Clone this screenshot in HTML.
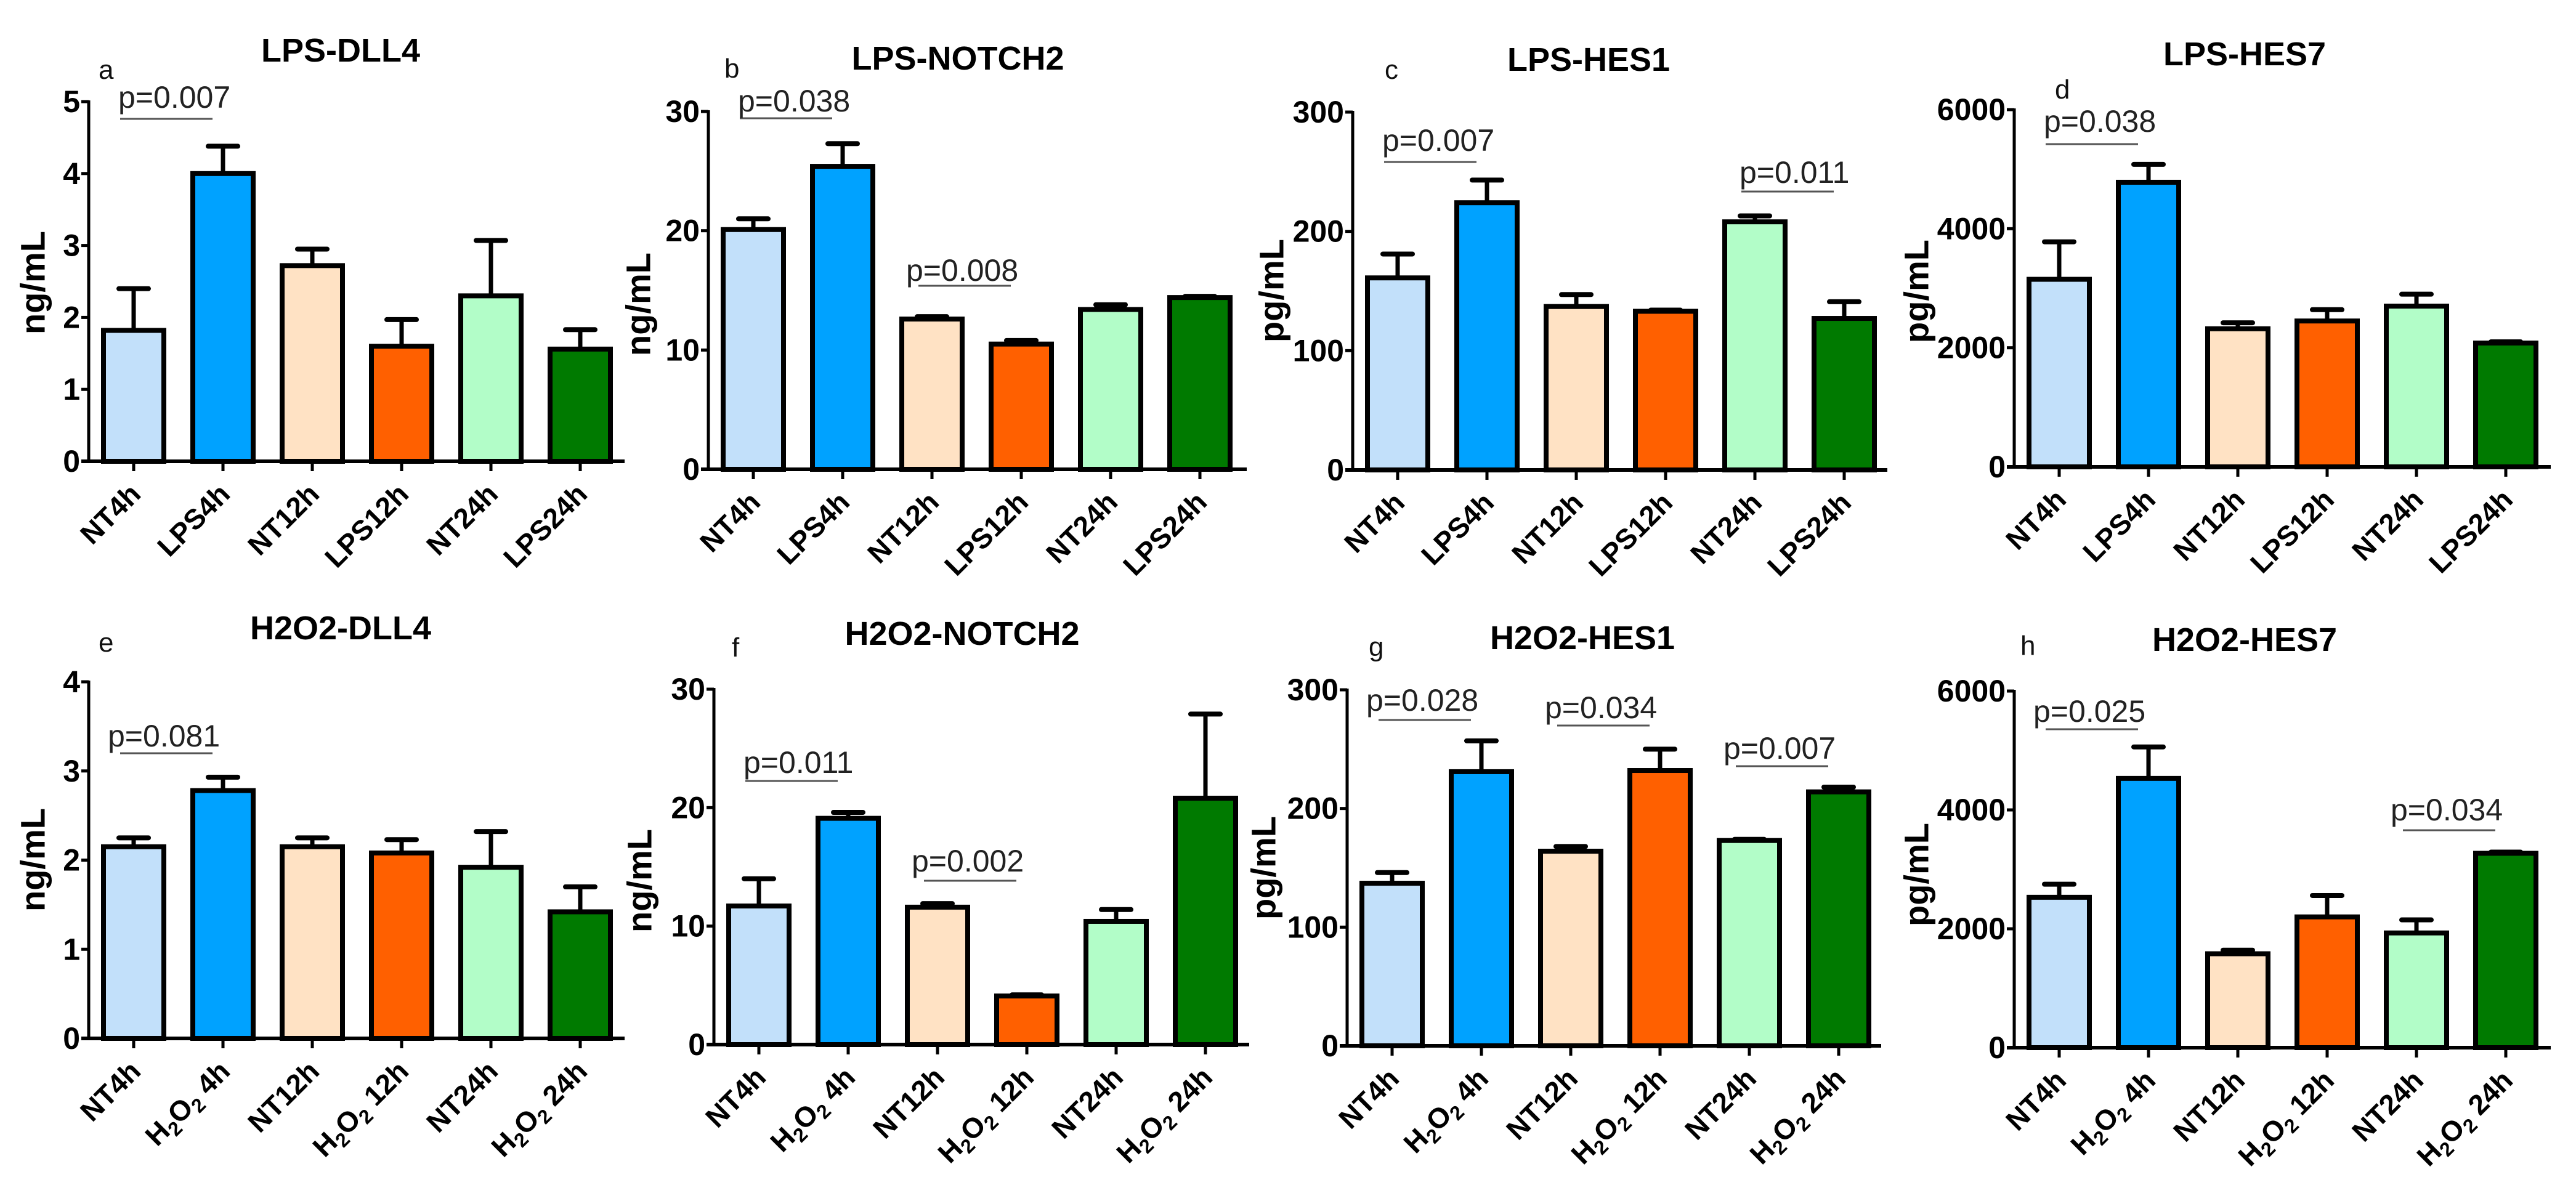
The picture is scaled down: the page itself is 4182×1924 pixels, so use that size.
<!DOCTYPE html>
<html><head><meta charset="utf-8">
<style>
html,body{margin:0;padding:0;background:#fff;}
svg{display:block;}
text{font-family:"Liberation Sans",Arial,sans-serif;}
</style></head>
<body>
<svg id="fig" width="4182" height="1924" viewBox="0 0 4182 1924" xmlns="http://www.w3.org/2000/svg"></svg>
<script>
// ---------- data ----------
const lpsCategories = ["NT4h","LPS4h","NT12h","LPS12h","NT24h","LPS24h"];
const h2o2Categories = ["NT4h","H2O2 4h","NT12h","H2O2 12h","NT24h","H2O2 24h"];
const barColors = ["#c2e0fa","#00a2ff","#ffe2c4","#ff6000","#b2fdc8","#007a00"];

const aValues = [1.82, 4.0, 2.72, 1.6, 2.3, 1.56];
const aErrTop = [2.4, 4.38, 2.95, 1.97, 3.07, 1.83];
const aTicks = [0,1,2,3,4,5];

const bValues = [20.1, 25.4, 12.6, 10.5, 13.4, 14.4];
const bErrTop = [21.0, 27.3, 12.8, 10.8, 13.8, 14.5];
const bTicks = [0,10,20,30];

const cValues = [161, 224, 137, 133, 208, 127];
const cErrTop = [181, 243, 147, 134, 213, 141];
const cTicks = [0,100,200,300];

const dValues = [3150, 4780, 2320, 2450, 2700, 2080];
const dErrTop = [3780, 5080, 2420, 2640, 2900, 2100];
const dTicks = [0,2000,4000,6000];

const eValues = [2.15, 2.78, 2.15, 2.08, 1.92, 1.42];
const eErrTop = [2.25, 2.93, 2.25, 2.23, 2.32, 1.7];
const eTicks = [0,1,2,3,4];

const fValues = [11.7, 19.1, 11.6, 4.1, 10.4, 20.8];
const fErrTop = [14.0, 19.6, 11.9, 4.2, 11.4, 27.9];
const fTicks = [0,10,20,30];

const gValues = [137, 231, 164, 232, 173, 214];
const gErrTop = [146, 257, 168, 250, 174, 218];
const gTicks = [0,100,200,300];

const hValues = [2530, 4530, 1580, 2200, 1930, 3270];
const hErrTop = [2750, 5060, 1640, 2560, 2150, 3290];
const hTicks = [0,2000,4000,6000];

// ---------- layout ----------
const panels = [
 {id:"a",title:"LPS-DLL4",unit:"ng/mL",cats:lpsCategories,vals:aValues,errs:aErrTop,ticks:aTicks,ax:144,top:165,zero:749,xend:1014,tx:553,ty:100,lx:160,ly:128,ulx:53,uly:459,
  pv:[{t:"p=0.007",i:0,j:1,y:193,ty:175}]},
 {id:"b",title:"LPS-NOTCH2",unit:"ng/mL",cats:lpsCategories,vals:bValues,errs:bErrTop,ticks:bTicks,ax:1150,top:181,zero:762,xend:2024,tx:1555,ty:113,lx:1176,ly:126,ulx:1036,uly:494,
  pv:[{t:"p=0.038",i:0,j:1,y:192,ty:181},{t:"p=0.008",i:2,j:3,y:464,ty:456,shift:true}]},
 {id:"c",title:"LPS-HES1",unit:"pg/mL",cats:lpsCategories,vals:cValues,errs:cErrTop,ticks:cTicks,ax:2196,top:182,zero:763,xend:3064,tx:2579,ty:115,lx:2248,ly:128,ulx:2064,uly:472,
  pv:[{t:"p=0.007",i:0,j:1,y:263,ty:245},{t:"p=0.011",i:4,j:5,y:311,ty:297}]},
 {id:"d",title:"LPS-HES7",unit:"pg/mL",cats:lpsCategories,vals:dValues,errs:dErrTop,ticks:dTicks,ax:3270,top:178,zero:758,xend:4141,tx:3644,ty:106,lx:3336,ly:160,ulx:3111,uly:473,
  pv:[{t:"p=0.038",i:0,j:1,y:234,ty:214}]},
 {id:"e",title:"H2O2-DLL4",unit:"ng/mL",cats:h2o2Categories,vals:eValues,errs:eErrTop,ticks:eTicks,ax:144,top:1107,zero:1686,xend:1014,tx:553,ty:1038,lx:160,ly:1058,ulx:53,uly:1396,
  pv:[{t:"p=0.081",i:0,j:1,y:1223,ty:1212,shift:true}]},
 {id:"f",title:"H2O2-NOTCH2",unit:"ng/mL",cats:h2o2Categories,vals:fValues,errs:fErrTop,ticks:fTicks,ax:1159,top:1119,zero:1696,xend:2028,tx:1562,ty:1047,lx:1188,ly:1066,ulx:1038,uly:1430,
  pv:[{t:"p=0.011",i:0,j:1,y:1268,ty:1255},{t:"p=0.002",i:2,j:3,y:1430,ty:1415,shift:true}]},
 {id:"g",title:"H2O2-HES1",unit:"pg/mL",cats:h2o2Categories,vals:gValues,errs:gErrTop,ticks:gTicks,ax:2187,top:1120,zero:1698,xend:3054,tx:2569,ty:1054,lx:2222,ly:1065,ulx:2051,uly:1409,
  pv:[{t:"p=0.028",i:0,j:1,y:1169,ty:1154,shift:true},{t:"p=0.034",i:2,j:3,y:1178,ty:1166,shift:true},{t:"p=0.007",i:4,j:5,y:1244,ty:1232,shift:true}]},
 {id:"h",title:"H2O2-HES7",unit:"pg/mL",cats:h2o2Categories,vals:hValues,errs:hErrTop,ticks:hTicks,ax:3270,top:1122,zero:1701,xend:4141,tx:3644,ty:1057,lx:3280,ly:1063,ulx:3111,uly:1420,
  pv:[{t:"p=0.025",i:0,j:1,y:1184,ty:1172,shift:true},{t:"p=0.034",i:4,j:5,y:1348,ty:1332,shift:true}]}
];

const NS="http://www.w3.org/2000/svg";
const svg=document.getElementById("fig");
function mk(tag,attrs,parent){const el=document.createElementNS(NS,tag);for(const k in attrs)el.setAttribute(k,attrs[k]);(parent||svg).appendChild(el);return el;}

const SPACING=145, OFF=73, BW=98;

panels.forEach(p=>{
  const g=mk("g",{});
  
  
  const maxV=p.ticks[p.ticks.length-1];
  const yScale=v=>p.zero-(v/maxV)*(p.zero-p.top);
  const xScale=i=>p.ax+OFF+i*SPACING;

  const t=mk("text",{x:p.tx,y:p.ty,"font-size":54,"font-weight":"bold","text-anchor":"middle",fill:"#000"},g);
  t.textContent=p.title;
  
  
  const l=mk("text",{x:p.lx,y:p.ly,"font-size":44,fill:"#111"},g);
  l.textContent=p.id;
  
  
  const yt=mk("text",{x:p.ulx,y:p.uly,"font-size":56,"font-weight":"bold","text-anchor":"middle",transform:`rotate(-90 ${p.ulx} ${p.uly})`,"dominant-baseline":"central"},g);
  yt.textContent=p.unit;
  
  

  p.vals.forEach((v,i)=>{
    const cx=xScale(i), yv=yScale(v), ye=yScale(p.errs[i]);
    const st=mk("line",{x1:cx,x2:cx,y1:ye,y2:yv,stroke:"#000","stroke-width":7},g);
    
    
    const cap=mk("line",{x1:cx-24,x2:cx+24,y1:ye,y2:ye,stroke:"#000","stroke-width":8,"stroke-linecap":"round"},g);
    
    
    const r=mk("rect",{x:cx-BW/2,y:yv,width:BW,height:p.zero-yv,fill:barColors[i],stroke:"#000","stroke-width":8},g);
    
    
    const tk=mk("line",{x1:cx,x2:cx,y1:p.zero,y2:p.zero+16,stroke:"#000","stroke-width":5},g);
    
    
    const lx=cx+14, ly=p.zero+56;
    const xl=mk("text",{x:lx,y:ly,"font-size":46,"font-weight":"bold","text-anchor":"end",transform:`rotate(-45 ${lx} ${ly})`},g);
    const c=p.cats[i];
    if(c.startsWith("H2O2")){
      const s1=mk("tspan",{},xl); s1.textContent="H";
      const s2=mk("tspan",{"font-size":32,dy:10},xl); s2.textContent="2";
      const s3=mk("tspan",{dy:-10},xl); s3.textContent="O";
      const s4=mk("tspan",{"font-size":32,dy:10},xl); s4.textContent="2";
      const s5=mk("tspan",{dy:-10},xl); s5.textContent=c.slice(4);
    } else xl.textContent=c;
    
    
  });

  const ya=mk("line",{x1:p.ax,x2:p.ax,y1:p.top-2,y2:p.zero+2,stroke:"#000","stroke-width":5},g);
  
  
  const xa=mk("line",{x1:p.ax-12,x2:p.xend,y1:p.zero,y2:p.zero,stroke:"#000","stroke-width":6},g);
  
  
  p.ticks.forEach(tv=>{
    const y=yScale(tv);
    const tk=mk("line",{x1:p.ax-12,x2:p.ax,y1:y,y2:y,stroke:"#000","stroke-width":5},g);
    
    
    const tl=mk("text",{x:p.ax-14,y:y+17,"font-size":50,"font-weight":"bold","text-anchor":"end"},g);
    tl.textContent=String(tv);
    
    
  });

  p.pv.forEach(a=>{
    const x1=xScale(a.i)-22, x2=xScale(a.j)-17;
    const ln=mk("line",{x1:x1,x2:x2,y1:a.y,y2:a.y,stroke:"#555","stroke-width":3},g);
    
    
    const tt=mk("text",{x:a.shift?x1-20:x1-3,y:a.ty,"font-size":50,fill:"#222"},g);
    tt.textContent=a.t;
    
    
  });
});
</script>
</body></html>
